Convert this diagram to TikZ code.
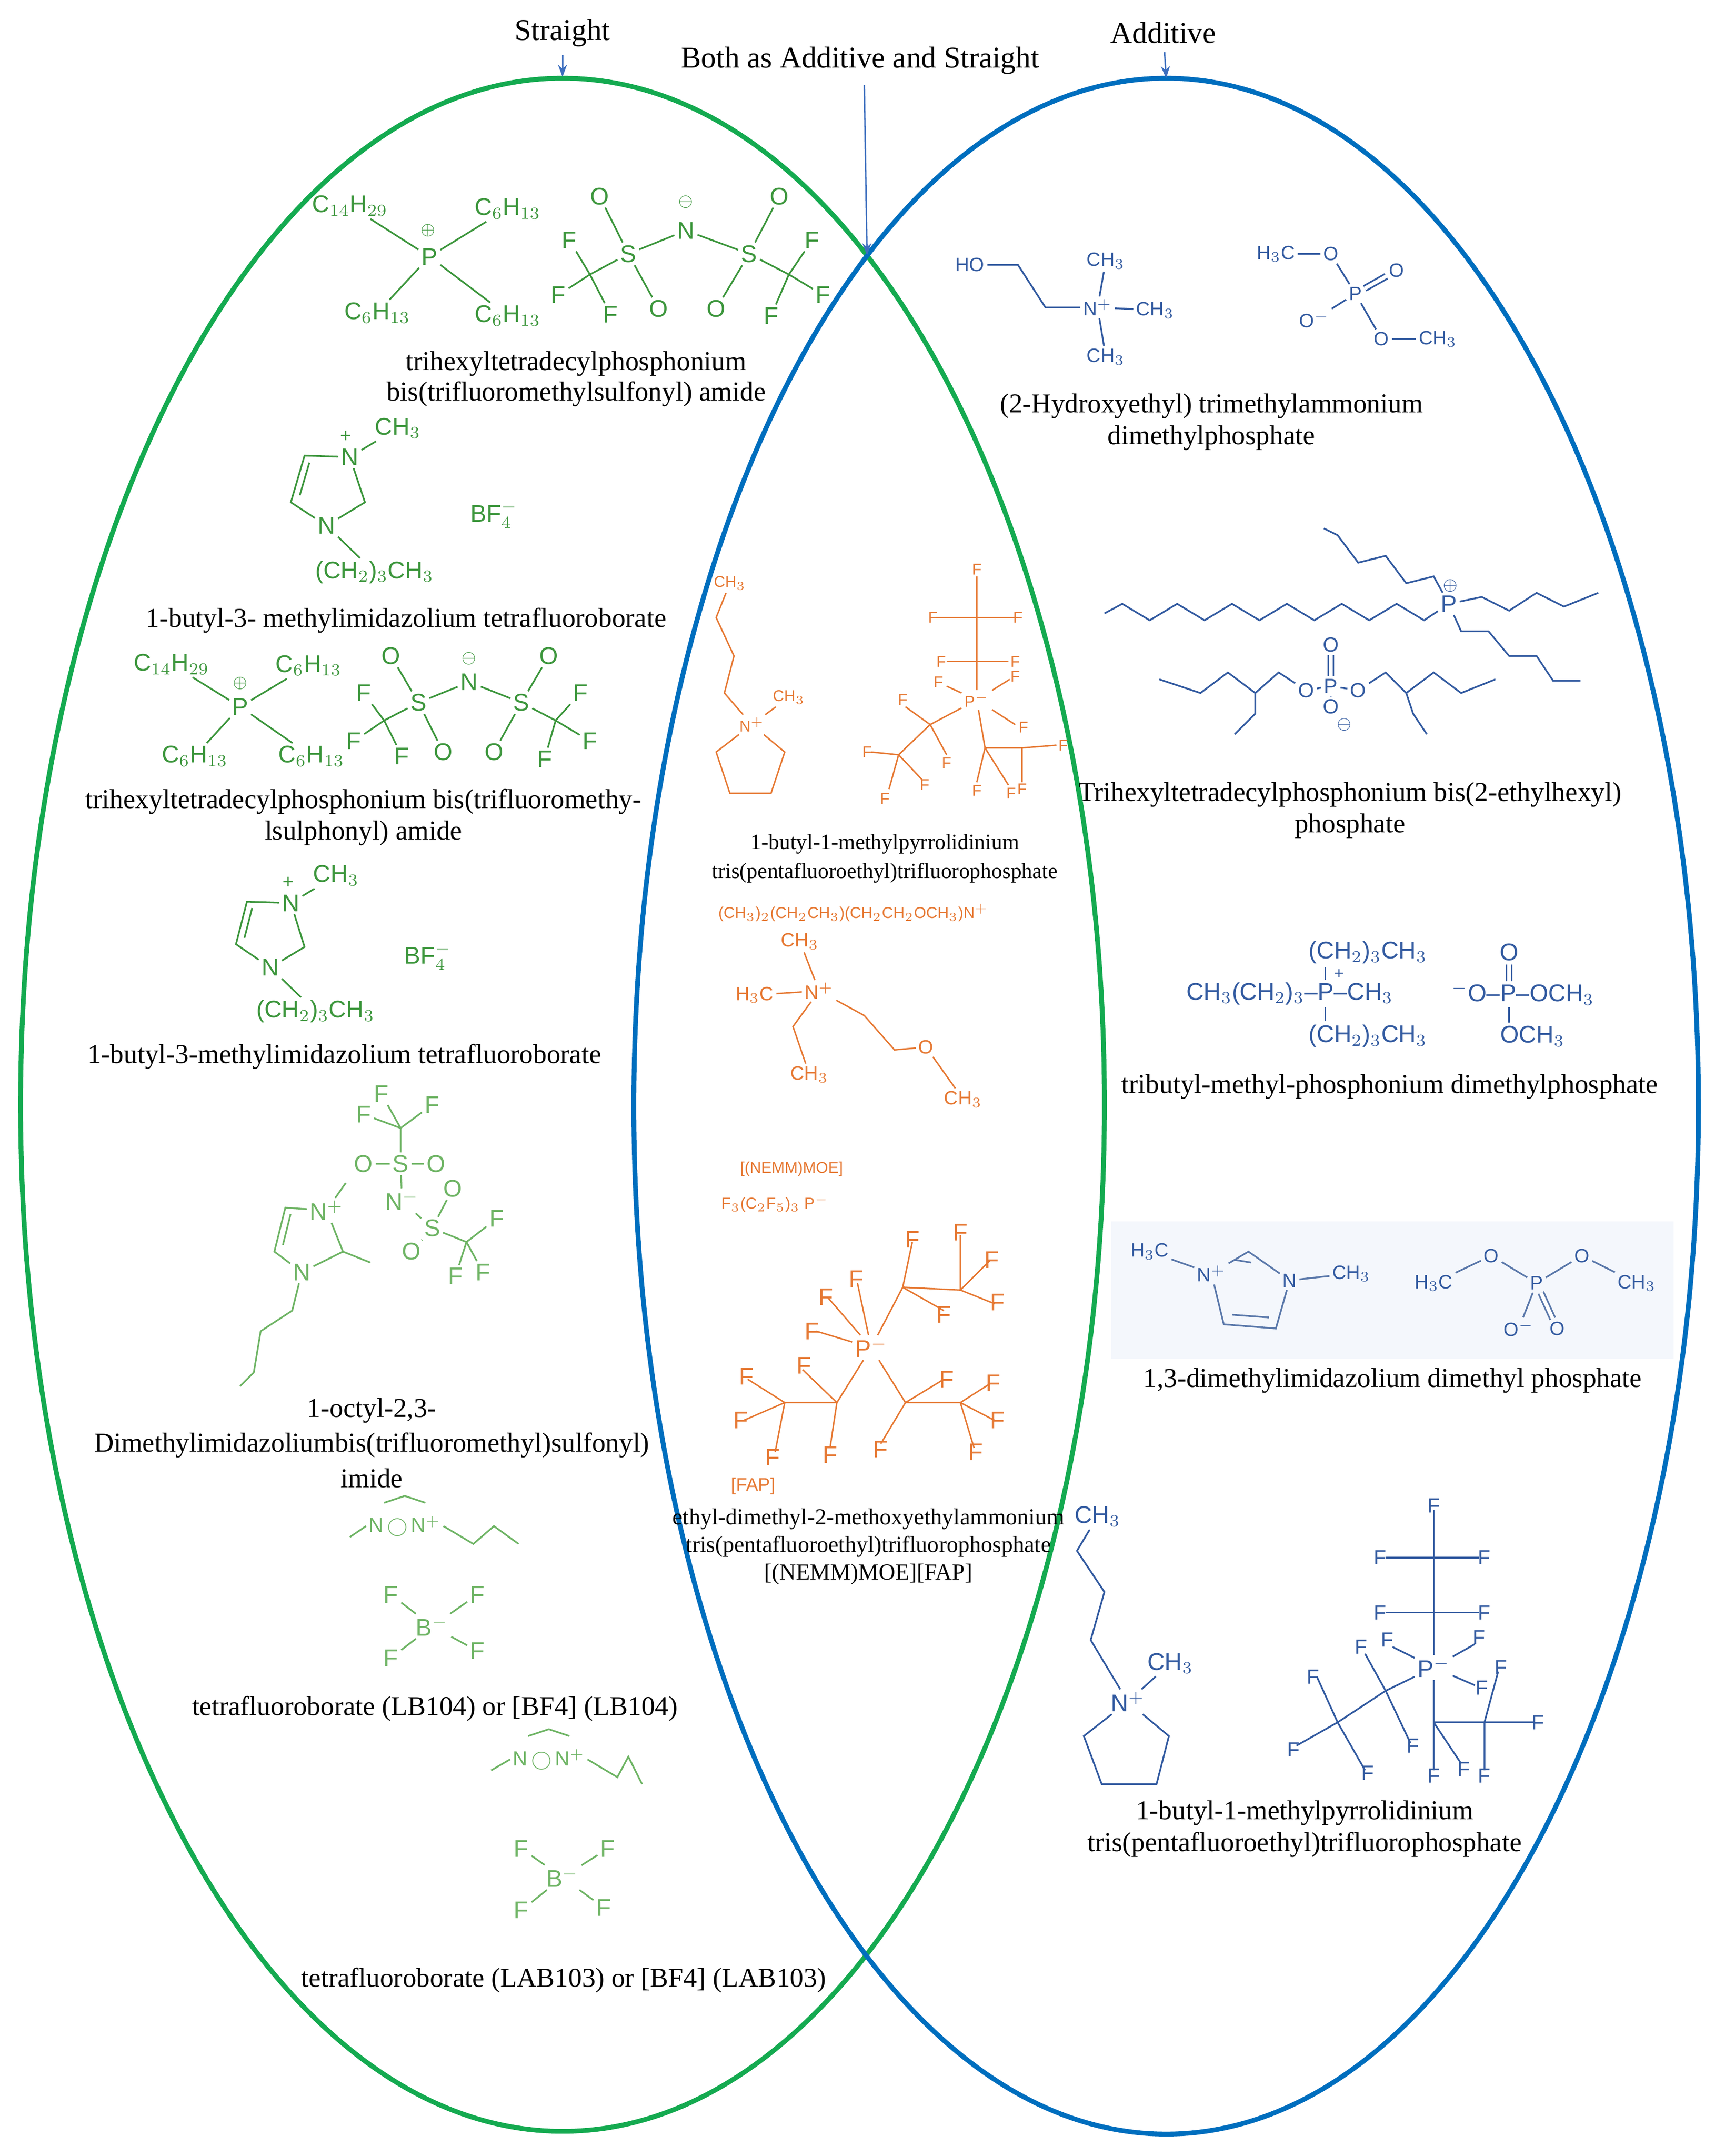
\documentclass[tikz,border=0pt]{standalone}
\usepackage{fontspec}
\setmainfont{Liberation Serif}
\newfontfamily\sansf{Liberation Sans}
\usetikzlibrary{arrows.meta,calc}
\definecolor{gel}{RGB}{20,170,80}
\definecolor{bel}{RGB}{0,110,190}
\definecolor{gch}{RGB}{60,150,60}
\definecolor{lgch}{RGB}{110,180,100}
\definecolor{bch}{RGB}{50,90,160}
\definecolor{lbch}{RGB}{90,120,170}
\definecolor{och}{RGB}{230,120,50}
\definecolor{arr}{RGB}{60,110,190}
\definecolor{pale}{RGB}{244,247,252}
\tikzset{
 lbl/.style={font=\fontsize{11.3}{13}\selectfont,align=center,text=black},
 atom/.style={font=\sansf\fontsize{10}{11}\selectfont,inner sep=1pt},
 satom/.style={font=\sansf\fontsize{6.5}{7}\selectfont,inner sep=1pt},
 ga/.style={atom,text=gch}, gb/.style={draw=gch,line width=0.7pt},
 la/.style={atom,text=lgch}, lb/.style={draw=lgch,line width=0.7pt},
 ba/.style={atom,text=bch}, bb/.style={draw=bch,line width=0.7pt},
 oa/.style={satom,text=och}, ob/.style={draw=och,line width=0.6pt},
 obig/.style={atom,text=och},
 bsa/.style={satom,text=bch},
 pointer/.style={draw=arr,line width=0.6pt,-{Stealth[length=5pt]}}
}
\begin{document}
\begin{tikzpicture}[x=0.02cm,y=-0.02cm]
\useasboundingbox (0,0) rectangle (1250,1571);
\fill[white] (0,0) rectangle (1250,1571);
% ellipses
\draw[gel,line width=2pt] (410,805) ellipse [x radius=395,y radius=748];
\draw[bel,line width=2pt] (850,806) ellipse [x radius=388,y radius=749];
% headers
\node[lbl,font=\fontsize{12.5}{14}\selectfont] (st) at (410,24) {Straight};
\node[lbl,font=\fontsize{12.5}{14}\selectfont] (ad) at (848,24) {Additive};
\node[lbl,font=\fontsize{12.5}{14}\selectfont] (bo) at (627,44) {Both as Additive and Straight};
\coordinate (st1) at (410,56); \coordinate (ad1) at (850,57); \coordinate (bo1) at (632,186);
\coordinate (bo0) at (630,62);
\draw[pointer] (st) -- (st1);
\draw[pointer] (ad) -- (ad1);
\draw[pointer] (bo0) -- (bo1);

% ===== structure 1 (green)
\node[ga] (p1) at (313,187) {P};
\node[ga,font=\sansf\fontsize{7}{7}\selectfont] at (312,168) {$\oplus$};
\node[ga] (c1a) at (255,150) {C$_{14}$H$_{29}$};
\node[ga] (c1b) at (370,152) {C$_6$H$_{13}$};
\node[ga] (c1c) at (275,228) {C$_6$H$_{13}$};
\node[ga] (c1d) at (370,230) {C$_6$H$_{13}$};
\foreach \n in {c1a,c1b,c1c,c1d} \draw[gb] (p1) -- (\n);
\node[ga] (o1a) at (437,143) {O}; \node[ga] (n1) at (500,168) {N};
\node[ga,font=\sansf\fontsize{7}{7}\selectfont] at (500,147) {$\ominus$};
\node[ga] (o1b) at (568,143) {O};
\node[ga] (s1a) at (458,185) {S}; \node[ga] (s1b) at (546,185) {S};
\node[ga] (o1c) at (480,225) {O}; \node[ga] (o1d) at (522,225) {O};
\coordinate (k1a) at (430,200); \coordinate (k1b) at (575,200);
\node[ga] (f1a) at (415,175) {F}; \node[ga] (f1b) at (407,215) {F}; \node[ga] (f1c) at (445,229) {F};
\node[ga] (f1d) at (592,175) {F}; \node[ga] (f1e) at (600,215) {F}; \node[ga] (f1f) at (562,230) {F};
\draw[gb] (s1a)--(n1) (n1)--(s1b) (s1a)--(o1a) (s1a)--(o1c) (s1b)--(o1b) (s1b)--(o1d) (s1a)--(k1a) (s1b)--(k1b);
\draw[gb] (k1a)--(f1a) (k1a)--(f1b) (k1a)--(f1c) (k1b)--(f1d) (k1b)--(f1e) (k1b)--(f1f);
\node[lbl] at (420,265) {trihexyltetradecylphosphonium};
\node[lbl] at (420,287) {bis(trifluoromethylsulfonyl) amide};

% ===== imidazolium 1
\node[ga] (n2a) at (255,333) {N}; \node[ga,font=\sansf\fontsize{8}{8}\selectfont] at (252,318) {+};
\node[ga] (n2b) at (238,383) {N};
\coordinate (r2a) at (266,366); \coordinate (r2b) at (212,366); \coordinate (r2c) at (222,332);
\draw[gb] (n2a)--(r2a)--(n2b)--(r2b)--(r2c)--(n2a);
\draw[gb] ($(r2b)!0.15!(r2c)+(5,0)$) -- ($(r2b)!0.85!(r2c)+(5,0)$);
\node[ga] (m2) at (290,312) {CH$_3$}; \draw[gb] (n2a)--(m2);
\node[ga] (bu2) at (273,417) {(CH$_2$)$_3$CH$_3$}; \draw[gb] (n2b)--(bu2);
\node[ga] at (360,375) {BF$_4^-$};
\node[lbl] at (296,452) {1-butyl-3- methylimidazolium tetrafluoroborate};

% ===== structure 3
\node[ga] (p3) at (175,515) {P};
\node[ga,font=\sansf\fontsize{7}{7}\selectfont] at (175,498) {$\oplus$};
\node[ga] (c3a) at (125,484) {C$_{14}$H$_{29}$}; \node[ga] (c3b) at (225,485) {C$_6$H$_{13}$};
\node[ga] (c3c) at (142,551) {C$_6$H$_{13}$}; \node[ga] (c3d) at (227,551) {C$_6$H$_{13}$};
\foreach \n in {c3a,c3b,c3c,c3d} \draw[gb] (p3) -- (\n);
\node[ga] (o3a) at (285,478) {O}; \node[ga] (n3) at (342,497) {N};
\node[ga,font=\sansf\fontsize{7}{7}\selectfont] at (342,480) {$\ominus$};
\node[ga] (o3b) at (400,478) {O};
\node[ga] (s3a) at (305,512) {S}; \node[ga] (s3b) at (380,512) {S};
\node[ga] (o3c) at (323,548) {O}; \node[ga] (o3d) at (360,548) {O};
\coordinate (k3a) at (280,525); \coordinate (k3b) at (405,525);
\node[ga] (f3a) at (265,505) {F}; \node[ga] (f3b) at (258,540) {F}; \node[ga] (f3c) at (293,551) {F};
\node[ga] (f3d) at (423,505) {F}; \node[ga] (f3e) at (430,540) {F}; \node[ga] (f3f) at (397,553) {F};
\draw[gb] (s3a)--(n3) (n3)--(s3b) (s3a)--(o3a) (s3a)--(o3c) (s3b)--(o3b) (s3b)--(o3d) (s3a)--(k3a) (s3b)--(k3b);
\draw[gb] (k3a)--(f3a) (k3a)--(f3b) (k3a)--(f3c) (k3b)--(f3d) (k3b)--(f3e) (k3b)--(f3f);
\node[lbl] at (265,584) {trihexyltetradecylphosphonium bis(trifluoromethy-};
\node[lbl] at (265,607) {lsulphonyl) amide};

% ===== imidazolium 2
\node[ga] (n4a) at (212,658) {N}; \node[ga,font=\sansf\fontsize{8}{8}\selectfont] at (210,643) {+};
\node[ga] (n4b) at (197,705) {N};
\coordinate (r4a) at (222,690); \coordinate (r4b) at (172,688); \coordinate (r4c) at (180,657);
\draw[gb] (n4a)--(r4a)--(n4b)--(r4b)--(r4c)--(n4a);
\draw[gb] ($(r4b)!0.15!(r4c)+(5,0)$) -- ($(r4b)!0.85!(r4c)+(5,0)$);
\node[ga] (m4) at (245,638) {CH$_3$}; \draw[gb] (n4a)--(m4);
\node[ga] (bu4) at (230,737) {(CH$_2$)$_3$CH$_3$}; \draw[gb] (n4b)--(bu4);
\node[ga] at (312,697) {BF$_4^-$};
\node[lbl] at (251,770) {1-butyl-3-methylimidazolium tetrafluoroborate};

% ===== structure 5 (light green)
\node[la] (f5a) at (278,797) {F}; \node[la] (f5b) at (265,812) {F}; \node[la] (f5c) at (315,805) {F};
\coordinate (k5a) at (292,822);
\node[la] (s5a) at (292,848) {S}; \node[la] (o5a) at (265,848) {O}; \node[la] (o5b) at (318,848) {O};
\node[la] (n5) at (293,875) {N$^-$};
\node[la] (s5b) at (315,895) {S}; \node[la] (o5c) at (330,866) {O}; \node[la] (o5d) at (300,912) {O};
\coordinate (k5b) at (340,905);
\node[la] (f5d) at (362,888) {F}; \node[la] (f5e) at (332,930) {F}; \node[la] (f5f) at (352,927) {F};
\draw[lb] (k5a)--(f5a) (k5a)--(f5b) (k5a)--(f5c) (k5a)--(s5a) (s5a)--(o5a) (s5a)--(o5b) (s5a)--(n5) (n5)--(s5b) (s5b)--(o5c) (s5b)--(o5d) (s5b)--(k5b) (k5b)--(f5d) (k5b)--(f5e) (k5b)--(f5f);
\node[la] (n5a) at (238,882) {N$^+$}; \node[la] (n5b) at (220,927) {N};
\coordinate (r5a) at (250,912); \coordinate (r5b) at (200,912); \coordinate (r5c) at (208,880);
\draw[lb] (n5a)--(r5a)--(n5b)--(r5b)--(r5c)--(n5a);
\draw[lb] ($(r5b)!0.15!(r5c)+(5,0)$) -- ($(r5b)!0.85!(r5c)+(5,0)$);
\draw[lb] (n5a)--(252,862) (r5a)--(270,920);
\draw[lb] (n5b)--(213,955)--(190,970)--(185,1000)--(175,1010);
\node[lbl] at (271,1028) {1-octyl-2,3-};
\node[lbl] at (271,1053) {Dimethylimidazoliumbis(trifluoromethyl)sulfonyl)};
\node[lbl] at (271,1077) {imide};

% ===== structure 6
\node[la,font=\sansf\fontsize{8.5}{9}\selectfont] (n6) at (295,1112) {N\,$\bigcirc$\,N$^+$};
\draw[lb] (n6.west)--(255,1120) (n6.east)--(345,1125)--(360,1112)--(378,1125);
\draw[lb] (280,1095)--(295,1090)--(310,1095);
\node[la] (b6) at (315,1185) {B$^-$};
\node[la] (f6a) at (285,1162) {F}; \node[la] (f6b) at (348,1162) {F};
\node[la] (f6c) at (285,1208) {F}; \node[la] (f6d) at (348,1203) {F};
\foreach \n in {f6a,f6b,f6c,f6d} \draw[lb] (b6)--(\n);
\node[lbl] at (317,1245) {tetrafluoroborate (LB104) or [BF4] (LB104)};

% ===== structure 7
\node[la,font=\sansf\fontsize{8.5}{9}\selectfont] (n7) at (400,1282) {N\,$\bigcirc$\,N$^+$};
\draw[lb] (n7.west)--(358,1290) (n7.east)--(450,1295)--(458,1280)--(468,1300);
\draw[lb] (385,1265)--(400,1260)--(415,1265);
\node[la] (b7) at (410,1368) {B$^-$};
\node[la] (f7a) at (380,1347) {F}; \node[la] (f7b) at (443,1347) {F};
\node[la] (f7c) at (380,1392) {F}; \node[la] (f7d) at (440,1390) {F};
\foreach \n in {f7a,f7b,f7c,f7d} \draw[lb] (b7)--(\n);
\node[lbl] at (411,1443) {tetrafluoroborate (LAB103) or [BF4] (LAB103)};

% ===== middle orange: pyrrolidinium
\node[oa] (m8) at (532,425) {CH$_3$};
\node[oa] (n8) at (548,528) {N$^+$}; \node[oa] (m8b) at (575,508) {CH$_3$};
\draw[ob] (m8)--(522,450)--(535,478)--(528,505)--(n8) (n8)--(m8b);
\draw[ob] (n8)--(522,548)--(532,578)--(562,578)--(572,548)--(n8);
\node[oa] (p8) at (712,510) {P$^-$};
\coordinate (q1) at (712,450); \coordinate (q2) at (712,482);
\coordinate (q3) at (678,528); \coordinate (q4) at (655,550);
\coordinate (q5) at (718,545); \coordinate (q6) at (745,545);
\draw[ob] (p8)--(q2)--(q1) (q1)--(712,420) (q1)--(682,450) (q1)--(742,450) (q2)--(690,482) (q2)--(735,482);
\draw[ob] (p8)--(q3)--(q4) (q4)--(635,548) (q4)--(648,575) (q4)--(672,568) (q3)--(660,515) (q3)--(690,550);
\draw[ob] (p8)--(q5)--(q6) (q6)--(770,543) (q6)--(745,570) (q5)--(712,570) (q5)--(735,572);
\draw[ob] (p8)--(690,500) (p8)--(736,495) (p8)--(740,528);
\foreach \x/\y in {712/415,680/450,742/450,686/482,740/482,632/548,645/582,674/572,658/510,690/556,775/543,745/575,712/576,737/578,684/497,740/493,746/530}
  \node[oa] at (\x,\y) {F};
\node[lbl,font=\fontsize{9}{10}\selectfont] at (645,615) {1-butyl-1-methylpyrrolidinium};
\node[lbl,font=\fontsize{9}{10}\selectfont] at (645,636) {tris(pentafluoroethyl)trifluorophosphate};
% NEMM
\node[oa] at (622,665) {(CH$_3$)$_2$(CH$_2$CH$_3$)(CH$_2$CH$_2$OCH$_3$)N$^+$};
\node[oa,font=\sansf\fontsize{8}{9}\selectfont] (c9a) at (583,686) {CH$_3$};
\node[oa,font=\sansf\fontsize{8}{9}\selectfont] (c9b) at (550,725) {H$_3$C};
\node[oa,font=\sansf\fontsize{8}{9}\selectfont] (n9) at (597,722) {N$^+$};
\node[oa,font=\sansf\fontsize{8}{9}\selectfont] (o9) at (675,763) {O};
\node[oa,font=\sansf\fontsize{8}{9}\selectfont] (c9c) at (702,801) {CH$_3$};
\node[oa,font=\sansf\fontsize{8}{9}\selectfont] (c9d) at (590,783) {CH$_3$};
\draw[ob] (n9)--(c9a) (n9)--(c9b) (n9)--(630,740)--(652,765)--(o9) (o9)--(c9c) (n9)--(578,748)--(c9d);
\node[oa] at (577,852) {[(NEMM)MOE]};
\node[oa] at (565,877) {F$_3$(C$_2$F$_5$)$_3$ P$^-$};
% FAP
\node[obig] (p10) at (635,982) {P$^-$};
\coordinate (u1) at (658,938); \coordinate (u2) at (700,940);
\coordinate (u3) at (610,1022); \coordinate (u4) at (572,1022);
\coordinate (u5) at (660,1022); \coordinate (u6) at (700,1022);
\draw[ob] (p10)--(u1)--(u2) (u1)--(665,905) (u1)--(688,955) (u2)--(700,900) (u2)--(722,918) (u2)--(725,950);
\draw[ob] (p10)--(u3)--(u4) (u3)--(585,998) (u3)--(605,1055) (u4)--(545,1005) (u4)--(542,1035) (u4)--(565,1058);
\draw[ob] (p10)--(u5)--(u6) (u5)--(642,1052) (u5)--(688,1005) (u6)--(722,1008) (u6)--(725,1035) (u6)--(710,1055);
\draw[ob] (p10)--(603,945) (p10)--(625,935) (p10)--(595,970);
\foreach \x/\y in {665/903,688/958,700/898,723/918,727/949,586/995,605/1060,544/1003,540/1035,563/1062,642/1056,690/1005,724/1008,727/1035,711/1058,602/945,624/932,592/970}
  \node[obig] at (\x,\y) {F};
\node[oa,font=\sansf\fontsize{7.5}{8}\selectfont] at (549,1083) {[FAP]};
\node[lbl,font=\fontsize{9.5}{10}\selectfont] at (633,1107) {ethyl-dimethyl-2-methoxyethylammonium};
\node[lbl,font=\fontsize{9.5}{10}\selectfont] at (633,1127) {tris(pentafluoroethyl)trifluorophosphate};
\node[lbl,font=\fontsize{9.5}{10}\selectfont] at (633,1147) {[(NEMM)MOE][FAP]};

% ===== blue: choline
\node[bsa,font=\sansf\fontsize{8}{9}\selectfont] (ho) at (707,193) {HO};
\node[bsa,font=\sansf\fontsize{8}{9}\selectfont] (n11) at (800,224) {N$^+$};
\node[bsa,font=\sansf\fontsize{8}{9}\selectfont] (m11a) at (806,190) {CH$_3$};
\node[bsa,font=\sansf\fontsize{8}{9}\selectfont] (m11b) at (842,226) {CH$_3$};
\node[bsa,font=\sansf\fontsize{8}{9}\selectfont] (m11c) at (806,260) {CH$_3$};
\draw[bb] (ho)--(742,193)--(762,224)--(n11) (n11)--(m11a) (n11)--(m11b) (n11)--(m11c);
\node[bsa,font=\sansf\fontsize{8}{9}\selectfont] (h12) at (930,185) {H$_3$C};
\node[bsa,font=\sansf\fontsize{8}{9}\selectfont] (o12a) at (970,185) {O};
\node[bsa,font=\sansf\fontsize{8}{9}\selectfont] (p12) at (988,214) {P};
\node[bsa,font=\sansf\fontsize{8}{9}\selectfont] (o12b) at (1018,197) {O};
\node[bsa,font=\sansf\fontsize{8}{9}\selectfont] (o12c) at (958,233) {O$^-$};
\node[bsa,font=\sansf\fontsize{8}{9}\selectfont] (o12d) at (1007,247) {O};
\node[bsa,font=\sansf\fontsize{8}{9}\selectfont] (c12) at (1048,247) {CH$_3$};
\draw[bb] (h12)--(o12a) (o12a)--(p12) (p12)--(o12c) (p12)--(o12d) (o12d)--(c12);
\draw[bb,double,double distance=1.5pt] (p12)--(o12b);
\node[lbl] at (883,296) {(2-Hydroxyethyl) trimethylammonium};
\node[lbl] at (883,319) {dimethylphosphate};

% ===== blue: phosphonium bis(2-ethylhexyl)phosphate
\node[ba] (p13) at (1056,440) {P}; \node[ba,font=\sansf\fontsize{7}{7}\selectfont] at (1057,427) {$\oplus$};
\draw[bb] (p13)--(1038,452)--(1018,440)--(998,452)--(978,440)--(958,452)--(938,440)--(918,452)--(898,440)--(878,452)--(858,440)--(838,452)--(818,440)--(805,447);
\draw[bb] (p13)--(1045,420)--(1025,425)--(1010,405)--(990,410)--(975,390)--(965,385);
\draw[bb] (p13)--(1080,435)--(1100,445)--(1120,432)--(1140,442)--(1165,432);
\draw[bb] (p13)--(1065,460)--(1085,460)--(1100,478)--(1120,478)--(1132,496)--(1152,496);
\node[ba,font=\sansf\fontsize{8.5}{9}\selectfont] (p14) at (970,500) {P};
\node[ba,font=\sansf\fontsize{8.5}{9}\selectfont] (o14a) at (970,470) {O};
\node[ba,font=\sansf\fontsize{8.5}{9}\selectfont] (o14b) at (952,503) {O};
\node[ba,font=\sansf\fontsize{8.5}{9}\selectfont] (o14c) at (990,503) {O};
\node[ba,font=\sansf\fontsize{8.5}{9}\selectfont] (o14d) at (970,515) {O};
\node[ba,font=\sansf\fontsize{7}{7}\selectfont] at (980,528) {$\ominus$};
\draw[bb,double,double distance=1.5pt] (p14)--(o14a);
\draw[bb] (p14)--(o14b) (p14)--(o14c) (p14)--(o14d);
\draw[bb] (o14b)--(932,490)--(915,505)--(895,490)--(875,505)--(845,495) (915,505)--(915,520)--(900,535);
\draw[bb] (o14c)--(1010,490)--(1025,505)--(1045,490)--(1065,505)--(1090,495) (1025,505)--(1030,520)--(1040,535);
\node[lbl] at (984,579) {Trihexyltetradecylphosphonium bis(2-ethylhexyl)};
\node[lbl] at (984,602) {phosphate};

% ===== blue: tributyl-methyl-phosphonium
\node[ba] at (997,694) {(CH$_2$)$_3$CH$_3$};
\node[ba] (p15) at (940,724) {CH$_3$(CH$_2$)$_3$\textendash P\textendash CH$_3$};
\node[ba,font=\sansf\fontsize{7}{7}\selectfont] at (976,710) {+};
\node[ba] at (997,755) {(CH$_2$)$_3$CH$_3$};
\draw[bb] (966,705)--(966,714) (966,734)--(966,744);
\node[ba] at (1110,724) {$^-$O\textendash P\textendash OCH$_3$};
\node[ba] at (1100,694) {O};
\node[ba] at (1117,755) {OCH$_3$};
\draw[bb,double,double distance=1.5pt] (1100,703)--(1100,715);
\draw[bb] (1100,734)--(1100,745);
\node[lbl] at (1013,792) {tributyl-methyl-phosphonium dimethylphosphate};

% ===== blue: 1,3-dimethylimidazolium
\fill[pale] (810,890) rectangle (1220,990);
\node[bsa,font=\sansf\fontsize{8}{9}\selectfont] (h15) at (838,912) {H$_3$C};
\node[bsa,font=\sansf\fontsize{8}{9}\selectfont] (n15a) at (883,928) {N$^+$};
\node[bsa,font=\sansf\fontsize{8}{9}\selectfont] (n15b) at (940,933) {N};
\node[bsa,font=\sansf\fontsize{8}{9}\selectfont] (c15) at (985,928) {CH$_3$};
\draw[lbch,line width=0.7pt] (h15)--(n15a) (n15a)--(910,912)--(n15b) (n15b)--(c15) (n15b)--(930,968)--(892,965)--(n15a);
\draw[lbch,line width=0.7pt] (898,958)--(925,960) (900,918)--(912,920);
\node[bsa,font=\sansf\fontsize{8}{9}\selectfont] (h16) at (1045,935) {H$_3$C};
\node[bsa,font=\sansf\fontsize{8}{9}\selectfont] (o16a) at (1087,915) {O};
\node[bsa,font=\sansf\fontsize{8}{9}\selectfont] (p16) at (1120,935) {P};
\node[bsa,font=\sansf\fontsize{8}{9}\selectfont] (o16b) at (1153,915) {O};
\node[bsa,font=\sansf\fontsize{8}{9}\selectfont] (c16) at (1193,935) {CH$_3$};
\node[bsa,font=\sansf\fontsize{8}{9}\selectfont] (o16c) at (1107,968) {O$^-$};
\node[bsa,font=\sansf\fontsize{8}{9}\selectfont] (o16d) at (1135,968) {O};
\draw[lbch,line width=0.7pt] (h16)--(o16a)--(p16)--(o16b)--(c16) (p16)--(o16c);
\draw[lbch,line width=0.7pt,double,double distance=1.5pt] (p16)--(o16d);
\node[lbl] at (1015,1006) {1,3-dimethylimidazolium dimethyl phosphate};

% ===== blue: pyrrolidinium FAP
\node[ba] (m17) at (800,1105) {CH$_3$};
\node[ba] (n17) at (822,1240) {N$^+$};
\node[ba] (m17b) at (853,1212) {CH$_3$};
\draw[bb] (m17)--(785,1130)--(805,1160)--(795,1195)--(n17) (n17)--(m17b);
\draw[bb] (n17)--(790,1265)--(803,1300)--(843,1300)--(852,1265)--(n17);
\node[ba] (p17) at (1045,1215) {P$^-$};
\coordinate (v1) at (1045,1135); \coordinate (v2) at (1045,1175);
\coordinate (v3) at (1010,1232); \coordinate (v4) at (975,1255);
\coordinate (v5) at (1045,1255); \coordinate (v6) at (1082,1255);
\draw[bb] (p17)--(v2)--(v1) (v1)--(1045,1100) (v1)--(1010,1135) (v1)--(1078,1135) (v2)--(1010,1175) (v2)--(1078,1175);
\draw[bb] (p17)--(v3)--(v4) (v4)--(960,1222) (v4)--(945,1272) (v4)--(995,1290) (v3)--(995,1205) (v3)--(1028,1270);
\draw[bb] (p17)--(v5)--(v6) (v6)--(1118,1255) (v6)--(1092,1218) (v6)--(1082,1290) (v5)--(1045,1290) (v5)--(1065,1285);
\draw[bb] (p17)--(1015,1200) (p17)--(1075,1198) (p17)--(1075,1228);
\foreach \x/\y in {1045/1097,1006/1135,1082/1135,1006/1175,1082/1175,957/1222,943/1275,997/1292,992/1200,1030/1272,1121/1255,1094/1215,1082/1294,1045/1294,1067/1289,1011/1195,1078/1193,1080/1230}
  \node[ba,font=\sansf\fontsize{8.5}{9}\selectfont] at (\x,\y) {F};
\node[lbl] at (951,1321) {1-butyl-1-methylpyrrolidinium};
\node[lbl] at (951,1344) {tris(pentafluoroethyl)trifluorophosphate};
\end{tikzpicture}
\end{document}
